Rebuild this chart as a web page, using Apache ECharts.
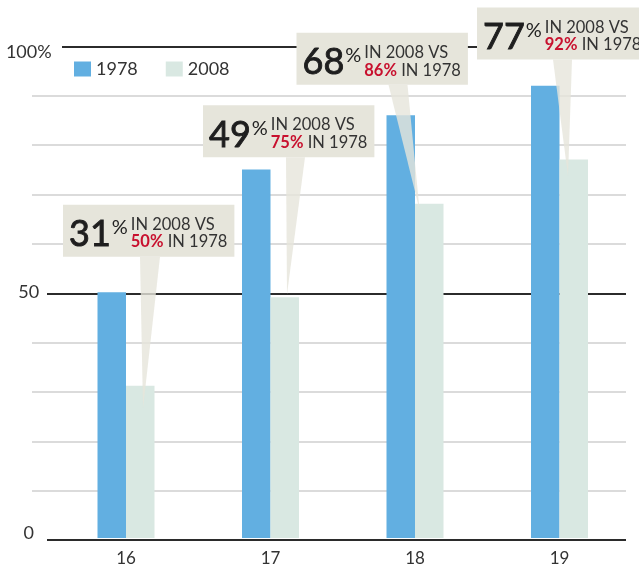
<!DOCTYPE html>
<html><head><meta charset="utf-8">
<script src="https://cdn.jsdelivr.net/npm/echarts@6/dist/echarts.min.js"></script>
<style>html,body{margin:0;padding:0;background:#fff}#c{width:639px;height:567px}</style>
</head><body><div id="c"></div>
<script>
const categories = ['16', '17', '18', '19'];
const values1978 = [50, 75, 86, 92];
const values2008 = [31, 49, 68, 77];
const seriesNames = ['1978', '2008'];
const yTickLabels = { 0: '0', 50: '50', 100: '100%' };

// callout placement, relative to category centre / top of the 2008 bar
const calloutLayout = [
  { dx: -63,   dy: -181, tipDx: 17,  tipDy: 23, baseL: 14,    baseR: 34 },
  { dx: -67.5, dy: -192, tipDx: 16.5, tipDy: -3, baseL: 15.5, baseR: 34.5 },
  { dx: -118.5, dy: -171, tipDx: 4.5, tipDy: 6,  baseL: -26.5, baseR: -7.5 },
  { dx: -82.5, dy: -152, tipDx: 8.5,  tipDy: 17, baseL: -6.5,  baseR: 12.5 }
];

const FF = 'Lato, "Open Sans", sans-serif';
const BLUE = '#62afe1', LIGHT = '#d9e8e2', BOX = '#e6e5db', RED = '#c8102e', TXT = '#333';
const TOP = 46.5, BOTTOM = 27;

const chart = echarts.init(document.getElementById('c'), null, { renderer: 'canvas' });

function hiddenX(gi) {
  return { type: 'value', gridIndex: gi, min: 0, max: 1, show: false };
}
function lineY(gi, interval, colors, width) {
  return {
    type: 'value', gridIndex: gi, min: 0, max: 100, interval: interval,
    axisLine: { show: false }, axisTick: { show: false }, axisLabel: { show: false },
    splitLine: { show: true, lineStyle: { color: colors, width: width } }
  };
}
const G = '#cfcfcf', T = 'rgba(0,0,0,0)', K = '#2b2b2b';

chart.setOption({
  animation: false,
  textStyle: { fontFamily: FF },
  grid: [
    { left: 53.75, right: 7.25, top: TOP, bottom: BOTTOM },
    { left: 32, right: 13, top: TOP, bottom: BOTTOM },
    { left: 47, right: 13, top: TOP, bottom: BOTTOM },
    { left: 62, right: 13, top: TOP, bottom: BOTTOM }
  ],
  legend: {
    left: 69, top: 55, itemWidth: 17, itemHeight: 15, itemGap: 28, icon: 'rect',
    data: seriesNames,
    textStyle: { fontSize: 18, color: TXT, fontFamily: FF, padding: [2, 0, 0, 0] }
  },
  xAxis: [
    {
      type: 'category', gridIndex: 0, data: categories,
      axisLine: { show: false }, axisTick: { show: false },
      axisLabel: { fontSize: 17, color: TXT, margin: 12 }
    },
    hiddenX(1), hiddenX(2), hiddenX(3)
  ],
  yAxis: [
    {
      type: 'value', gridIndex: 0, min: 0, max: 100, interval: 50,
      axisLine: { show: false }, axisTick: { show: false }, splitLine: { show: false },
      axisLabel: {
        margin: 25, align: 'center', fontSize: 18, color: TXT,
        formatter: function (v) {
          if (v === 100) return '{t|' + yTickLabels[v] + '}';
          if (v === 0) return '{b|' + yTickLabels[v] + '}';
          return yTickLabels[v];
        },
        rich: {
          t: { fontSize: 18, color: TXT, padding: [12, 0, 0, 0] },
          b: { fontSize: 18, color: TXT, padding: [0, 0, 10, 0] }
        }
      }
    },
    lineY(1, 10, [T, G, G, G, G, T, G, G, G, G, T], 1.5),
    lineY(2, 50, [K, K, T], 2),
    lineY(3, 50, [T, T, K], 2)
  ],
  series: [
    { name: seriesNames[0], type: 'bar', xAxisIndex: 0, yAxisIndex: 0, data: values1978,
      barWidth: 28.5, barGap: '0%', itemStyle: { color: BLUE }, z: 3 },
    { name: seriesNames[1], type: 'bar', xAxisIndex: 0, yAxisIndex: 0, data: values2008,
      barWidth: 28.5, barGap: '0%', itemStyle: { color: LIGHT }, z: 3 }
  ]
});

const ctx = document.createElement('canvas').getContext('2d');
function tw(font, t) { ctx.font = font; return ctx.measureText(t).width; }
const bigFont = '36px ' + FF;
const pctFont = '20px ' + FF;
const lineFont = '16.5px ' + FF;
const lineBold = 'bold 16.5px ' + FF;

const elements = [];
const BOXH = 52, PADL = 6, PADR = 7;
values2008.forEach(function (v, i) {
  const p = chart.convertToPixel({ seriesIndex: 1 }, [i, v]);
  const cc = p[0], ty = p[1];
  const L = calloutLayout[i];
  const bx = cc + L.dx, by = ty + L.dy;
  const num = String(v);
  const line1 = 'IN 2008 VS';
  const redTxt = values1978[i] + '%';
  const numW = tw(bigFont, num);
  const pctW = tw(pctFont, '%');
  const lx = bx + PADL + numW + 1 + pctW + 3;
  const l1W = tw(lineFont, line1);
  const l2W = tw(lineBold, redTxt) + tw(lineFont, ' IN 1978');
  const bw = (lx - bx) + Math.max(l1W, l2W) + PADR;
  elements.push({
    type: 'polygon', z: 100,
    shape: { points: [[cc + L.baseL, by + BOXH], [cc + L.baseR, by + BOXH], [cc + L.tipDx, ty + L.tipDy]] },
    style: { fill: BOX, opacity: 0.8 }
  });
  elements.push({ type: 'rect', z: 101, shape: { x: bx, y: by, width: bw, height: BOXH }, style: { fill: BOX } });
  elements.push({ type: 'text', z: 102, x: bx + PADL, y: by + 30,
    style: { text: num, font: bigFont, fill: '#1e1e1e', stroke: '#1e1e1e', lineWidth: 0.9, verticalAlign: 'middle' } });
  elements.push({ type: 'text', z: 102, x: bx + PADL + numW + 1, y: by + 23,
    style: { text: '%', font: pctFont, fill: '#222', verticalAlign: 'middle' } });
  elements.push({ type: 'text', z: 102, x: lx, y: by + 20,
    style: { text: line1, font: lineFont, fill: TXT, verticalAlign: 'middle' } });
  elements.push({ type: 'text', z: 102, x: lx, y: by + 37.5,
    style: { text: '{r|' + redTxt + '}{n| IN 1978}', verticalAlign: 'middle',
      rich: { r: { font: lineBold, fill: RED }, n: { font: lineFont, fill: TXT } } } });
});
chart.setOption({ graphic: { elements: elements } });
</script>
</body></html>
